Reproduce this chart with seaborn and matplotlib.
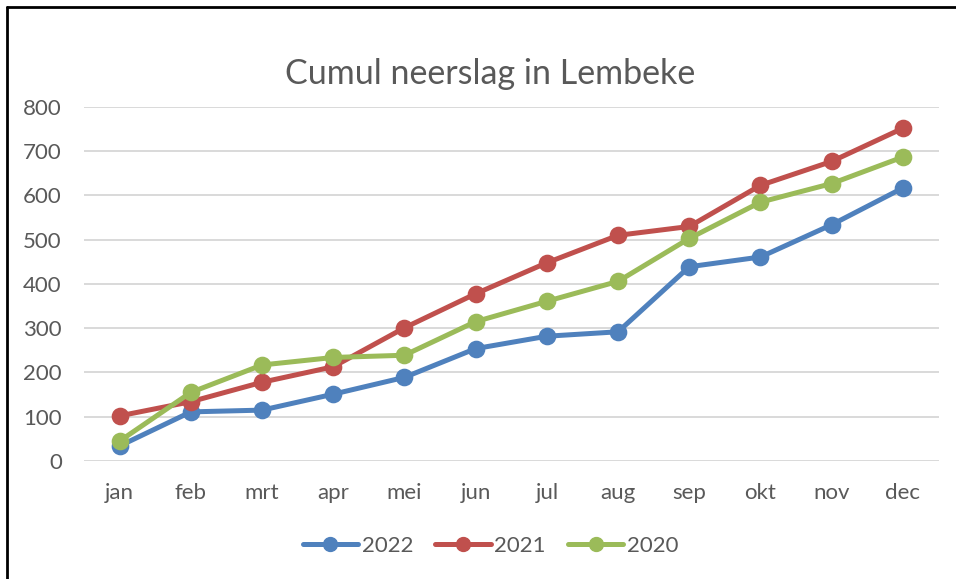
import numpy as np
import pandas as pd
import matplotlib
matplotlib.use("Agg")
import matplotlib.pyplot as plt
import seaborn as sns

# ==========================================
# DATA (cumulative rainfall, mm)
# ==========================================

months = ["jan", "feb", "mrt", "apr", "mei", "jun",
          "jul", "aug", "sep", "okt", "nov", "dec"]

rain_2022 = [34, 111, 115, 151, 189, 254, 282, 292, 439, 461, 534, 617]
rain_2021 = [102, 134, 178, 213, 301, 378, 448, 510, 530, 623, 677, 752]
rain_2020 = [45, 155, 217, 234, 239, 315, 361, 406, 503, 585, 627, 687]

years = ["2022", "2021", "2020"]
colors = ["#4F81BD", "#C0504D", "#9BBB59"]

df = pd.concat([
    pd.DataFrame({"maand": months, "neerslag": vals, "jaar": yr})
    for yr, vals in zip(years, [rain_2022, rain_2021, rain_2020])
])

# ==========================================
# PLOT
# ==========================================

sns.set_style("white")
plt.rcParams["font.family"] = ["Lato", "DejaVu Sans"]
text_col = "#595959"

fig = plt.figure(figsize=(9.56, 5.79), dpi=100)
ax = fig.add_axes([0.0879, 0.2038, 0.8938, 0.6114])

sns.pointplot(
    data=df, x="maand", y="neerslag", hue="jaar",
    order=months, hue_order=years, palette=colors,
    markers="o", linestyles="-", errorbar=None,
    linewidth=3.6, markersize=10, ax=ax, legend=False
)

ax.set_xlim(-0.5, 11.5)
ax.set_ylim(0, 800)
ax.set_yticks(np.arange(0, 801, 100))
ax.yaxis.grid(True, color="#D9D9D9", linewidth=1.4)
ax.xaxis.grid(False)
ax.set_axisbelow(True)
for s in ax.spines.values():
    s.set_visible(False)

ax.set_xlabel("")
ax.set_ylabel("")
ax.tick_params(axis="both", length=0, labelsize=16, labelcolor=text_col)
ax.tick_params(axis="y", pad=16)
ax.tick_params(axis="x", pad=16)

fig.text(0.513, 0.872, "Cumul neerslag in Lembeke",
         ha="center", va="center", fontsize=24.5, color=text_col)

handles = [plt.Line2D([], [], color=c, lw=3.6, marker="o", markersize=10)
           for c in colors]
fig.legend(handles, years, loc="center", bbox_to_anchor=(0.513, 0.057),
           ncol=3, frameon=False, fontsize=16, handlelength=2.5,
           handletextpad=0.15, columnspacing=1.0, labelcolor=text_col)

# outer frame (top and left edges visible)
fig.add_artist(plt.Line2D([7 / 956, 1.0], [1 - 7 / 579, 1 - 7 / 579],
                          color="black", lw=2, transform=fig.transFigure))
fig.add_artist(plt.Line2D([7 / 956, 7 / 956], [0.0, 1 - 7 / 579],
                          color="black", lw=2, transform=fig.transFigure))

fig.savefig("out.png", dpi=100)
